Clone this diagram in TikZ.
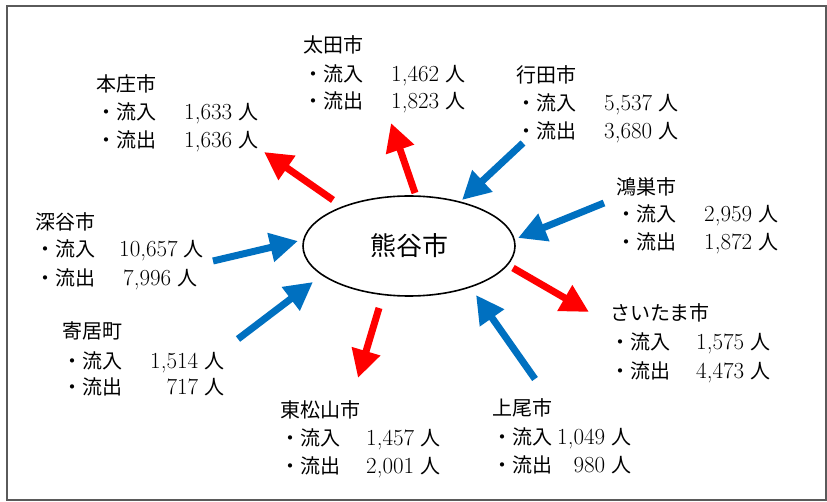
\documentclass[tikz,border=0pt]{standalone}
\usepackage{fontspec}
\newfontfamily\jpfont{Noto Sans CJK JP}
\usetikzlibrary{arrows.meta,shapes.geometric}
\definecolor{outred}{RGB}{255,0,0}
\definecolor{inblue}{RGB}{0,112,192}
\definecolor{framegray}{RGB}{90,90,90}
\newcommand\numtxt[1]{{\fontsize{23}{24}\selectfont #1}}
\newcommand\flw[3][88pt]{\makebox[#1][l]{\jpfont ・#2}\numtxt{#3}\hspace{6pt}{\jpfont 人}}
\newcommand\cityblk[8]{%
  \node[lbl] (#1) at (#2,#4) {\jpfont #3};
  \node[lbl] (#1-in) at (#2,#5) {#7};
  \node[lbl] (#1-out) at (#2,#6) {#8};}
\tikzset{
  lbl/.style={anchor=base west, inner sep=0pt, font=\fontsize{20}{24}\selectfont},
  outarrow/.style={draw=outred, line width=7pt, -{Triangle[length=28pt,width=28pt]}, fill=outred},
  inarrow/.style={draw=inblue, line width=7pt, -{Triangle[length=28pt,width=28pt]}, fill=inblue},
}
\begin{document}
\begin{tikzpicture}[x=1pt,y=-1pt]
\useasboundingbox (0,0) rectangle (827,502);
\draw[framegray, line width=1.2pt] (7,6) rectangle (826,500);

\node[draw, ellipse, line width=1.6pt, minimum width=212pt, minimum height=100pt, inner sep=0pt,
      font=\jpfont\fontsize{26}{30}\selectfont] (kumagaya) at (409,246) {熊谷市};

\cityblk{honjo}{96}{本庄市}{92}{120}{148}{\flw{流入}{1,633}}{\flw{流出}{1,636}}
\cityblk{ota}{303}{太田市}{53}{82}{109}{\flw{流入}{1,462}}{\flw{流出}{1,823}}
\cityblk{gyoda}{516}{行田市}{83}{111}{139}{\flw{流入}{5,537}}{\flw{流出}{3,680}}
\cityblk{konosu}{616}{鴻巣市}{195}{222}{250}{\flw{流入}{2,959}}{\flw{流出}{1,872}}
\cityblk{fukaya}{35}{深谷市}{230}{257}{286}{\flw[84pt]{流入}{10,657}}{\flw{流出}{7,996}}
\cityblk{yorii}{62}{寄居町}{339}{369}{395}{\flw{流入}{1,514}}{\flw{流出}{\hphantom{1,}717}}
\cityblk{higashimatsuyama}{280}{東松山市}{417}{445}{473}{\flw[86pt]{流入}{1,457}}{\flw[86pt]{流出}{2,001}}
\cityblk{ageo}{492}{上尾市}{415}{444}{472}{\flw[65pt]{流入}{1,049}}{\flw[65pt]{流出}{\hphantom{1,}980}}
\cityblk{saitama}{610}{さいたま市}{321}{350}{378}{\flw[86pt]{流入}{1,575}}{\flw[86pt]{流出}{4,473}}

% arrow end points
\coordinate (honjo-a) at (333,200);  \coordinate (honjo-b) at (264,152);
\coordinate (ota-a) at (415,193);    \coordinate (ota-b) at (391,123);
\coordinate (hm-a) at (379,308);     \coordinate (hm-b) at (358,378);
\coordinate (sai-a) at (513,268);    \coordinate (sai-b) at (589,312);
\coordinate (gyoda-a) at (523,143);  \coordinate (gyoda-b) at (462,200);
\coordinate (kon-a) at (604,203);    \coordinate (kon-b) at (518,238);
\coordinate (fuk-a) at (213,261);    \coordinate (fuk-b) at (298,241);
\coordinate (yor-a) at (238,339);    \coordinate (yor-b) at (313,282);
\coordinate (ageo-a) at (535,379);   \coordinate (ageo-b) at (476,295);

\draw[outarrow] (honjo-a) -- (honjo-b);
\draw[outarrow] (ota-a) -- (ota-b);
\draw[outarrow] (hm-a) -- (hm-b);
\draw[outarrow] (sai-a) -- (sai-b);
\draw[inarrow] (gyoda-a) -- (gyoda-b);
\draw[inarrow] (kon-a) -- (kon-b);
\draw[inarrow] (fuk-a) -- (fuk-b);
\draw[inarrow] (yor-a) -- (yor-b);
\draw[inarrow] (ageo-a) -- (ageo-b);
\end{tikzpicture}
\end{document}
